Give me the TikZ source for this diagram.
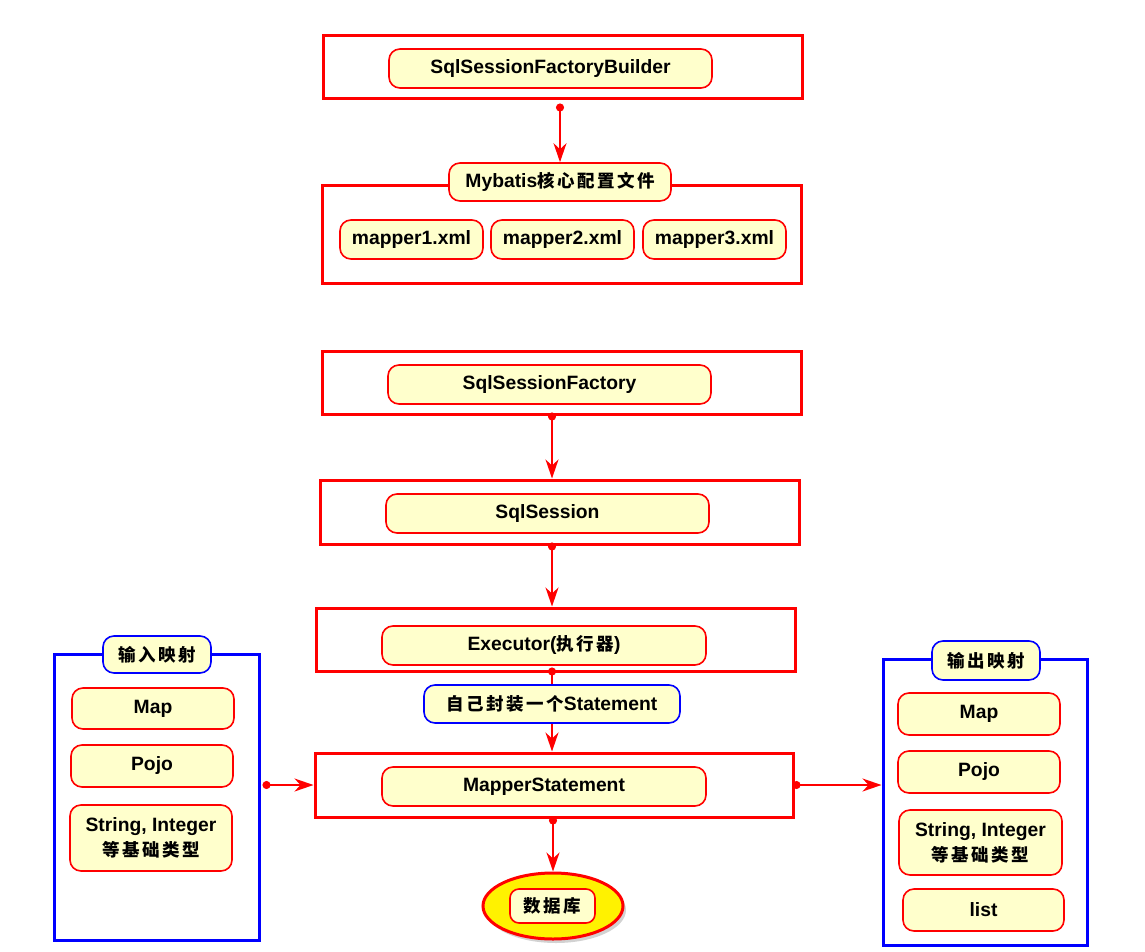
\documentclass[tikz,border=0pt]{standalone}
\usepackage{fontspec}
\setmainfont{Liberation Sans}
\newfontfamily\cjk{Noto Sans CJK SC}[LetterSpace=14]
\usetikzlibrary{arrows.meta,shapes.geometric,shadows}
\newcommand\zh[1]{{\cjk\fontsize{17.5}{22}\selectfont #1}}
\definecolor{pillfill}{HTML}{FFFFCC}
\definecolor{cred}{HTML}{FF0000}
\definecolor{cblue}{HTML}{0000FF}
\tikzset{
  frame/.style={draw=cred, line width=3pt, fill=white},
  bframe/.style={draw=cblue, line width=3pt, fill=white},
  pill/.style={draw=cred, line width=1.6pt, fill=pillfill, rounded corners=11pt,
    font=\fontsize{19.3}{23}\selectfont\bfseries, align=center, inner sep=0pt},
  bpill/.style={pill, draw=cblue},
  tipend/.tip={Stealth[length=19pt,width=13pt,inset=6pt]},
  flow/.style={draw=cred, line width=1.8pt, -tipend},
  dotstart/.style={flow, {Circle[length=8pt]}-tipend},
  dotline/.style={draw=cred, line width=1.8pt, {Circle[length=8pt]}-},
}
\begin{document}
\begin{tikzpicture}[x=1pt,y=-1pt]
\useasboundingbox (0,0) rectangle (1145,952);
\coordinate (spine) at (552,0);

% builder and config file
\node[frame, minimum width=479pt, minimum height=63pt] (b1) at (562.5,67.5) {};
\node[pill, minimum width=323pt, minimum height=39pt] (p1) at (550.5,68.5) {SqlSessionFactoryBuilder};
\node[frame, minimum width=479pt, minimum height=97pt] (b2) at (561.5,234.5) {};
\node[pill, minimum width=222pt, minimum height=38pt] (cfg) at (560,182) {Mybatis\zh{核心配置文件}};
\node[pill, minimum width=143pt, minimum height=39pt] (m1) at (411.5,239.5) {mapper1.xml};
\node[pill, minimum width=143pt, minimum height=39pt] (m2) at (562.5,239.5) {mapper2.xml};
\node[pill, minimum width=143pt, minimum height=39pt] (m3) at (714.5,239.5) {mapper3.xml};
\draw[dotstart] (cfg |- b1.south) ++(0,3) -- (cfg.north);

% session chain
\node[frame, minimum width=479pt, minimum height=63pt] (b3) at (561.5,382.5) {};
\node[pill, minimum width=323pt, minimum height=39pt] (p3) at (549.5,384.5) {SqlSessionFactory};
\node[frame, minimum width=479pt, minimum height=64pt] (b4) at (559.5,512) {};
\node[pill, minimum width=323pt, minimum height=39pt] (p4) at (547.5,513.5) {SqlSession};
\node[frame, minimum width=479pt, minimum height=63pt] (b5) at (555.5,639.5) {};
\node[pill, minimum width=324pt, minimum height=39pt] (p5) at (544,645.5) {Executor(\zh{执行器})};
\node[bpill, minimum width=256pt, minimum height=38pt] (st) at (552,704) {\zh{自己封装一个}Statement};
\node[frame, minimum width=478pt, minimum height=64pt] (b6) at (554,785) {};
\node[pill, minimum width=324pt, minimum height=39pt] (p6) at (544,786.5) {MapperStatement};

\draw[dotstart] ([yshift=3pt]b3.south -| spine) -- (b4.north -| spine);
\draw[dotstart] ([yshift=3pt]b4.south -| spine) -- (b5.north -| spine);
\draw[dotline] ([yshift=5pt]b5.south -| spine) -- (st.north -| spine);
\draw[flow] (st.south -| spine) -- (b6.north -| spine);

% database
\node[ellipse, draw=cred, line width=3pt, fill=yellow, minimum width=140pt, minimum height=66pt,
  drop shadow={shadow xshift=3pt, shadow yshift=-4pt, fill=black!35}] (db) at (553,906) {};
\node[pill, minimum width=85pt, minimum height=34pt, rounded corners=9pt] (dbl) at (552.5,906) {\zh{数据库}};
\draw[dotstart] ([yshift=2pt]b6.south -| db) -- (db.north);

% input mapping
\node[bframe, minimum width=205pt, minimum height=286pt] (lin) at (156.5,797) {};
\node[bpill, minimum width=108pt, minimum height=37pt] (lint) at (157,654.5) {\zh{输入映射}};
\node[pill, minimum width=162pt, minimum height=41pt] (li1) at (153,708.5) {Map};
\node[pill, minimum width=162pt, minimum height=42pt] (li2) at (152,766) {Pojo};
\node[pill, minimum width=162pt, minimum height=66pt] (li3) at (151,838) {String, Integer\\[2pt]\zh{等基础类型}};
\draw[dotstart] ([xshift=2pt]lin.east |- b6) -- (b6.west);

% output mapping
\node[bframe, minimum width=204pt, minimum height=286pt] (rout) at (985,802) {};
\node[bpill, minimum width=108pt, minimum height=39pt] (routt) at (986,660.5) {\zh{输出映射}};
\node[pill, minimum width=162pt, minimum height=42pt] (ro1) at (979,714) {Map};
\node[pill, minimum width=162pt, minimum height=42pt] (ro2) at (979,772) {Pojo};
\node[pill, minimum width=163pt, minimum height=65pt] (ro3) at (980.5,842.5) {String, Integer\\[2pt]\zh{等基础类型}};
\node[pill, minimum width=161pt, minimum height=42pt] (ro4) at (983.5,910) {list};
\draw[dotstart] ([xshift=-2pt]b6.east) -- (rout.west |- b6);
\end{tikzpicture}
\end{document}
